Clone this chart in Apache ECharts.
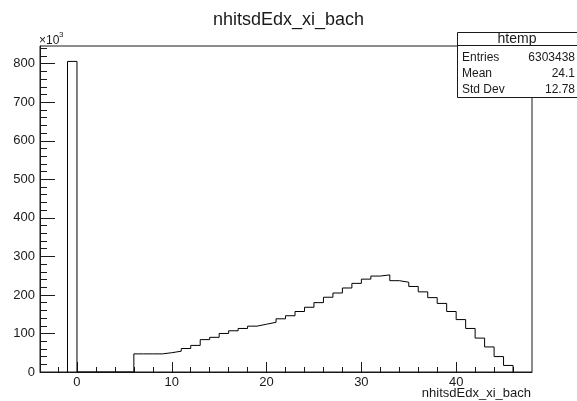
<!DOCTYPE html>
<html>
<head>
<meta charset="utf-8">
<script src="https://cdn.jsdelivr.net/npm/echarts@6/dist/echarts.min.js"></script>
<style>
  html, body { margin: 0; padding: 0; background: #fff; }
  #main { width: 577px; height: 401px; }
</style>
</head>
<body>
<div id="main"></div>
<script>
// histogram nhitsdEdx_xi_bach, bin width 1, first bin starts at -1
const binLow = -1;
const binWidth = 1;
// bin contents in units of 10^3 (bins -1 .. 45)
const counts = [
    806, 0, 0, 0, 0, 0, 0,
    47, 47, 47, 50, 54, 61, 69, 84, 90, 100,
    107, 113, 119, 124, 129, 138, 146, 157, 168, 180,
    194, 205, 218, 230, 241, 249, 252, 237, 233, 222,
    208, 193, 178, 157, 136, 113, 88, 65, 40, 17
];

const xMajor = [0, 10, 20, 30, 40];
const xMinor = [-2, 2, 4, 6, 8, 12, 14, 16, 18, 22, 24, 26, 28, 32, 34, 36, 38, 42, 44, 46];
const yMajor = [0, 100, 200, 300, 400, 500, 600, 700, 800];
const yMinor = [];
for (let v = 20; v <= 840; v += 20) {
    if (v % 100 !== 0) yMinor.push(v);
}

const statsRows = [
    ['Entries', '6303438'],
    ['Mean', '24.1'],
    ['Std Dev', '12.78']
];

const font = '"Liberation Sans", Arial, Helvetica, sans-serif';
const ink = '#1a1a1a';

// step outline points from the bin edges
function histPoints() {
    const pts = [[binLow, 0]];
    counts.forEach((c, i) => pts.push([binLow + i * binWidth, c]));
    const hi = binLow + counts.length * binWidth;
    pts.push([hi, counts[counts.length - 1]]);
    pts.push([hi, 0]);
    return pts;
}

const chart = echarts.init(document.getElementById('main'), null, { renderer: 'canvas' });

const statsGraphics = [
    {
        type: 'rect', z: 100,
        shape: { x: 457.5, y: 32.5, width: 125, height: 65 },
        style: { fill: '#fff', stroke: ink, lineWidth: 1 }
    },
    {
        type: 'line', z: 101,
        shape: { x1: 457.5, y1: 45.5, x2: 577, y2: 45.5 },
        style: { stroke: ink, lineWidth: 1 }
    },
    {
        type: 'text', z: 102, x: 517, y: 39.5,
        style: { text: 'htemp', font: '14px ' + font, fill: ink, align: 'center', verticalAlign: 'middle' }
    }
];
statsRows.forEach((row, i) => {
    const y = 57.5 + i * 16;
    statsGraphics.push({
        type: 'text', z: 102, x: 462, y: y,
        style: { text: row[0], font: '12px ' + font, fill: ink, align: 'left', verticalAlign: 'middle' }
    });
    statsGraphics.push({
        type: 'text', z: 102, x: 575, y: y,
        style: { text: row[1], font: '12px ' + font, fill: ink, align: 'right', verticalAlign: 'middle' }
    });
});

const option = {
    animation: false,
    backgroundColor: '#fff',
    title: {
        text: 'nhitsdEdx_xi_bach',
        left: 'center',
        top: 11,
        padding: 0,
        textStyle: { fontFamily: font, fontSize: 18, fontWeight: 'normal', color: ink }
    },
    grid: {
        left: 40, right: 45, top: 46, bottom: 29,
        show: true, borderColor: ink, borderWidth: 1, backgroundColor: 'transparent'
    },
    xAxis: [
        {
            type: 'value', min: -3.9, max: 48, position: 'bottom',
            axisLine: { show: true, onZero: false, lineStyle: { color: ink } },
            axisTick: { show: true, inside: true, length: 10, customValues: xMajor, lineStyle: { color: ink } },
            axisLabel: { customValues: xMajor, margin: 4, color: ink, fontFamily: font, fontSize: 13 },
            splitLine: { show: false }
        },
        {
            type: 'value', min: -3.9, max: 48, position: 'bottom',
            axisLine: { show: false, onZero: false },
            axisTick: { show: true, inside: true, length: 5, customValues: xMinor, lineStyle: { color: ink } },
            axisLabel: { show: false },
            splitLine: { show: false }
        }
    ],
    yAxis: [
        {
            type: 'value', min: 0, max: 846, position: 'left',
            axisLine: { show: true, onZero: false, lineStyle: { color: ink } },
            axisTick: { show: true, inside: true, length: 15, customValues: yMajor, lineStyle: { color: ink } },
            axisLabel: { customValues: yMajor, margin: 5, color: ink, fontFamily: font, fontSize: 13 },
            splitLine: { show: false }
        },
        {
            type: 'value', min: 0, max: 846, position: 'left',
            axisLine: { show: false, onZero: false },
            axisTick: { show: true, inside: true, length: 7, customValues: yMinor, lineStyle: { color: ink } },
            axisLabel: { show: false },
            splitLine: { show: false }
        }
    ],
    graphic: [
        {
            type: 'text', x: 39, y: 41,
            style: { text: '\u00d710', font: '12px ' + font, fill: ink, align: 'left', verticalAlign: 'middle' }
        },
        {
            type: 'text', x: 59, y: 35,
            style: { text: '3', font: '8px ' + font, fill: ink, align: 'left', verticalAlign: 'middle' }
        },
        {
            type: 'text', x: 531, y: 393,
            style: { text: 'nhitsdEdx_xi_bach', font: '13px ' + font, fill: ink, align: 'right', verticalAlign: 'middle' }
        }
    ].concat(statsGraphics),
    series: [{
        type: 'line',
        xAxisIndex: 0,
        yAxisIndex: 0,
        step: 'end',
        symbol: 'none',
        silent: true,
        data: histPoints(),
        lineStyle: { color: '#000', width: 1 }
    }]
};

chart.setOption(option);
</script>
</body>
</html>
